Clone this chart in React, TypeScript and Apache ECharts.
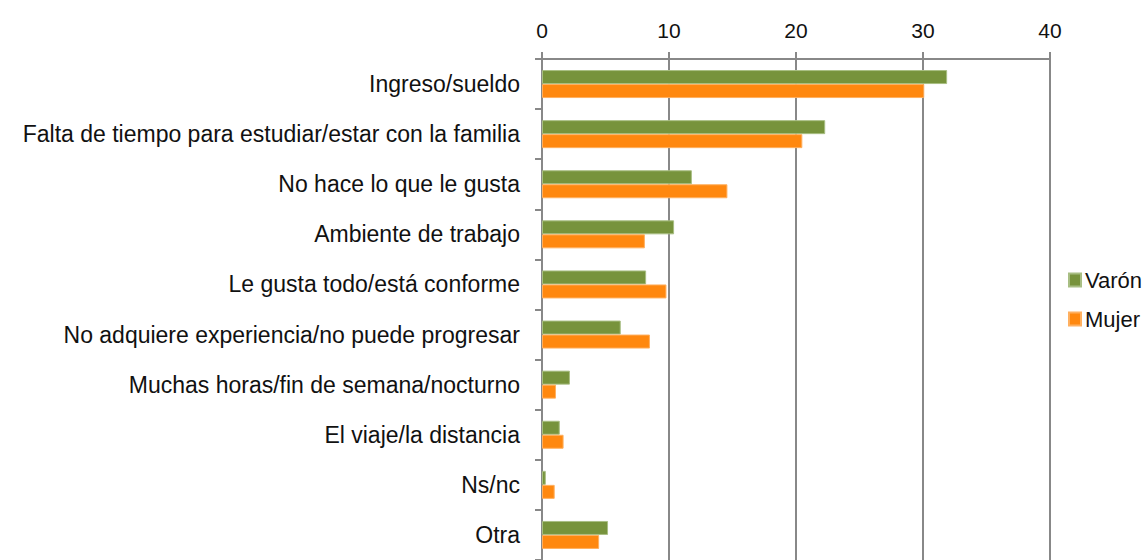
import React, { useEffect, useRef } from "react";
import * as echarts from "echarts";

const categories = [
  "Ingreso/sueldo",
  "Falta de tiempo para estudiar/estar con la familia",
  "No hace lo que le gusta",
  "Ambiente de trabajo",
  "Le gusta todo/está conforme",
  "No adquiere experiencia/no puede progresar",
  "Muchas horas/fin de semana/nocturno",
  "El viaje/la distancia",
  "Ns/nc",
  "Otra",
];
const varon = [31.9, 22.3, 11.8, 10.4, 8.2, 6.2, 2.2, 1.4, 0.3, 5.2];
const mujer = [30.1, 20.5, 14.6, 8.1, 9.8, 8.5, 1.1, 1.7, 1.0, 4.5];
const seriesNames = ["Varón", "Mujer"];
const colors = ["#77933C", "#FF880F"];

const FONT = "'Liberation Sans', Arial, Helvetica, sans-serif";

export default function App() {
  const ref = useRef<HTMLDivElement>(null);
  useEffect(() => {
    document.body.style.margin = "0";
    const chart = echarts.init(ref.current!, null, { renderer: "svg" });
    chart.setOption({
      animation: false,
      textStyle: { fontFamily: FONT },
      legend: {
        orient: "vertical",
        left: 1068,
        top: 267,
        padding: 0,
        itemWidth: 12,
        itemHeight: 13,
        itemGap: 13,
        icon: "rect",
        textStyle: { fontSize: 22, lineHeight: 26, color: "#111", fontFamily: FONT, padding: [0, 0, 0, -1] },
        data: seriesNames,
      },
      grid: { left: 542, top: 59, width: 508, height: 511 },
      xAxis: {
        type: "value",
        position: "top",
        min: 0,
        max: 40,
        interval: 10,
        axisLine: { show: true, lineStyle: { color: "#888", width: 2 } },
        axisTick: { show: true, length: 7, lineStyle: { color: "#888", width: 2 } },
        splitLine: { show: true, lineStyle: { color: "#888", width: 2 } },
        axisLabel: { fontSize: 21, color: "#111", margin: 18, fontFamily: FONT },
      },
      yAxis: {
        type: "category",
        inverse: true,
        data: categories,
        axisLine: { show: true, lineStyle: { color: "#888", width: 2 } },
        axisTick: { show: true, length: 7, lineStyle: { color: "#888", width: 2 } },
        axisLabel: { fontSize: 23, color: "#111", margin: 22, fontFamily: FONT },
      },
      series: [
        {
          name: seriesNames[0],
          type: "bar",
          data: varon,
          barWidth: 14,
          barGap: "0%",
          itemStyle: { color: colors[0], borderColor: "#A8BE83", borderWidth: 1 },
        },
        {
          name: seriesNames[1],
          type: "bar",
          data: mujer,
          barWidth: 14,
          barGap: "0%",
          itemStyle: { color: colors[1], borderColor: "#FFB060", borderWidth: 1 },
        },
      ],
    });
    return () => chart.dispose();
  }, []);
  return <div ref={ref} style={{ width: 1148, height: 560 }} />;
}
